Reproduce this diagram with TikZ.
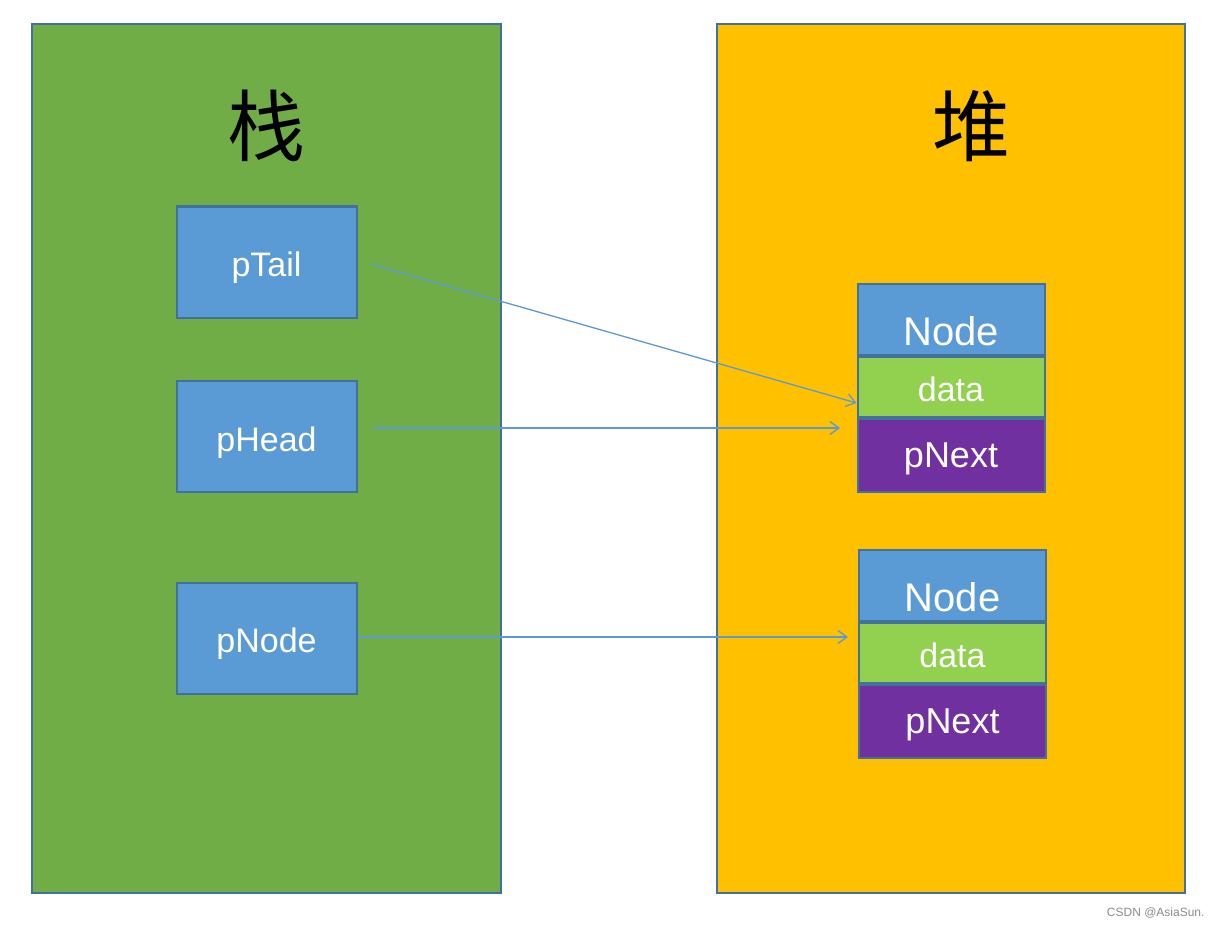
\documentclass[tikz,border=0pt]{standalone}
\usepackage{fontspec}
\setmainfont{Liberation Sans}
\newfontfamily\cjk{Noto Sans CJK SC}
\usetikzlibrary{arrows.meta}
\definecolor{stackgreen}{HTML}{70AD47}
\definecolor{heapyellow}{HTML}{FFC000}
\definecolor{boxblue}{HTML}{5B9BD5}
\definecolor{edgeblue}{HTML}{41719C}
\definecolor{datagreen}{HTML}{92D050}
\definecolor{nextpurple}{HTML}{7030A0}
\tikzset{
  region/.style={draw=edgeblue, line width=1.4pt},
  ptrbox/.style={draw=edgeblue, line width=2pt, fill=boxblue, minimum width=180pt, minimum height=111pt, inner sep=0pt},
  cell/.style={draw=edgeblue, line width=2pt, minimum width=187pt, inner sep=0pt},
  headcell/.style={cell, fill=boxblue, minimum height=71pt},
  datacell/.style={cell, fill=datagreen, minimum height=60pt},
  nextcell/.style={cell, fill=nextpurple, minimum height=73pt},
  lbl/.style={text=white, inner sep=0pt, text depth=0pt},
  ptrlbl/.style={lbl, font=\fontsize{34}{40}\selectfont, text height=24.3pt},
  headlbl/.style={lbl, font=\fontsize{40}{46}\selectfont, text height=28.6pt},
  datalbl/.style={lbl, font=\fontsize{34}{40}\selectfont, text height=24.3pt},
  nextlbl/.style={lbl, font=\fontsize{36}{42}\selectfont, text height=25.8pt},
  link/.style={draw=boxblue, line width=1.3pt, -{Straight Barb[length=9pt,width=13pt]}},
  title/.style={font=\cjk\fontsize{78}{90}\selectfont, text=black}
}
\begin{document}
\begin{tikzpicture}[x=1pt, y=-1pt]
\fill[white] (0,0) rectangle (1220,928);
\useasboundingbox (0,0) rectangle (1220,928);
% regions
\filldraw[region, fill=stackgreen] (32,24) rectangle (501,893);
\filldraw[region, fill=heapyellow] (717,24) rectangle (1185,893);
\node[title] (stack) at (266,126) {栈};
\node[title] (heap) at (971,126) {堆};
% pointer boxes
\node[ptrbox] (pTail) at (266.5,262) {};
\node[ptrbox] (pHead) at (266.5,436.5) {};
\node[ptrbox] (pNode) at (266.5,638) {};
\node[ptrlbl] (pTailText) at ([yshift=-2.5pt]pTail.center) {pTail};
\node[ptrlbl] (pHeadText) at ([yshift=-2.5pt]pHead.center) {pHead};
\node[ptrlbl] (pNodeText) at ([yshift=-2.5pt]pNode.center) {pNode};
% node 1
\node[headcell, anchor=north] (node1) at (951,283) {};
\node[datacell, anchor=north] (data1) at (node1.south) {};
\node[nextcell, anchor=north] (next1) at (data1.south) {};
\node[headlbl] (node1Text) at ([yshift=-11.5pt]node1.center) {Node};
\node[datalbl] (data1Text) at ([yshift=-2pt]data1.center) {data};
\node[nextlbl] (next1Text) at ([yshift=1pt]next1.center) {pNext};
% node 2
\node[headcell, anchor=north] (node2) at (952.5,549) {};
\node[datacell, anchor=north] (data2) at (node2.south) {};
\node[nextcell, anchor=north] (next2) at (data2.south) {};
\node[headlbl] (node2Text) at ([yshift=-11.5pt]node2.center) {Node};
\node[datalbl] (data2Text) at ([yshift=-2pt]data2.center) {data};
\node[nextlbl] (next2Text) at ([yshift=1pt]next2.center) {pNext};
% arrow endpoints
\coordinate (tailStart) at ([xshift=13pt,yshift=-2pt]pTail.east);
\coordinate (tailEnd) at ([yshift=-16pt]data1.west);
\coordinate (headStart) at ([xshift=15pt,yshift=8.5pt]pHead.east);
\coordinate (headEnd) at (840,428);
\coordinate (nodeStart) at ([yshift=1pt]pNode.east);
\coordinate (nodeEnd) at (848,637);
\draw[link] (tailStart) -- (tailEnd);
\draw[link] (headStart) -- (headEnd);
\draw[link] (nodeStart) -- (nodeEnd);
% watermark
\node[font=\fontsize{12}{14}\selectfont, text=black!45, anchor=east] (mark) at (1208,913) {CSDN @AsiaSun.};
\end{tikzpicture}
\end{document}
